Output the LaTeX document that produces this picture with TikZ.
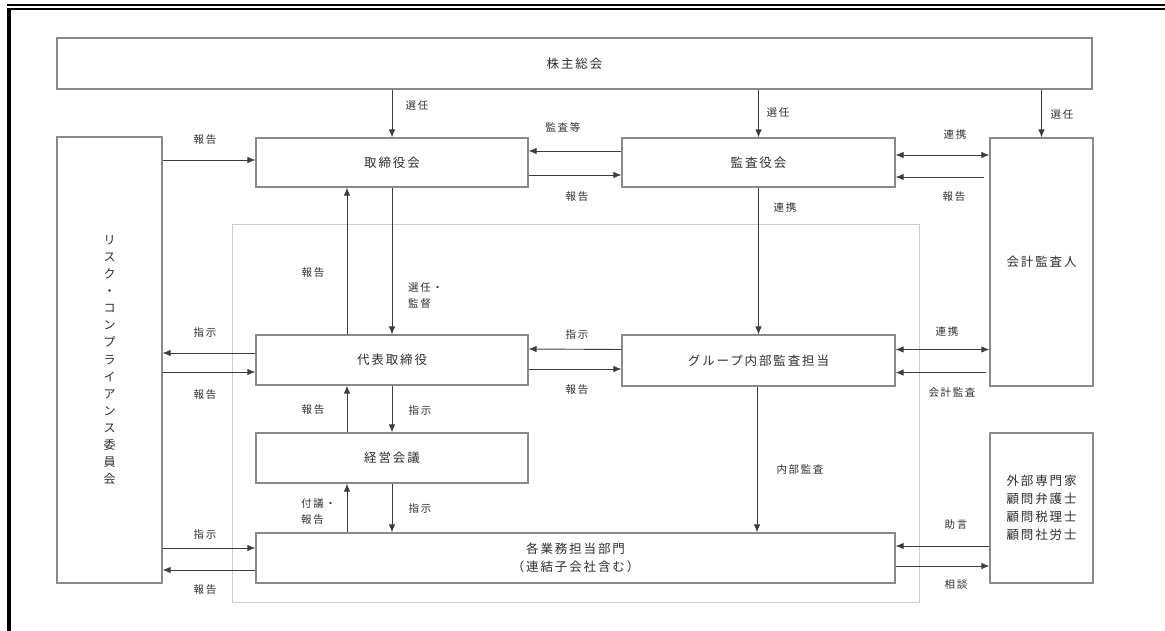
\documentclass[tikz,border=0pt]{standalone}
\usepackage{fontspec}
\newfontfamily\jp[LetterSpace=15]{Noto Sans CJK JP}
\usetikzlibrary{arrows.meta}
\definecolor{boxline}{HTML}{8A8A8A}
\definecolor{arrowc}{HTML}{3C3C3C}
\definecolor{textc}{HTML}{2E2E2E}
\definecolor{grpc}{HTML}{CFCFCF}
\begin{document}
\begin{tikzpicture}[x=1pt,y=-1pt,
  box/.style={draw=boxline,line width=1.2pt,fill=white,inner sep=0pt,align=center,
    text=textc,font=\jp\fontsize{12.5}{18}\selectfont},
  lbl/.style={inner sep=1pt,text=textc,font=\jp\fontsize{10.5}{16}\selectfont},
  arr/.style={draw=arrowc,line width=0.9pt,-{Latex[length=8pt,width=6.5pt]}},
  darr/.style={draw=arrowc,line width=0.9pt,{Latex[length=8pt,width=6.5pt]}-{Latex[length=8pt,width=6.5pt]}}]
\useasboundingbox (0,0) rectangle (1165,631);
% page border
\fill[black] (7,4.5) rectangle (1165,6.5);
\fill[black] (7,8.3) rectangle (1165,10.3);
\fill[black] (7,8.3) rectangle (11,631);
% group frame
\node[draw=grpc,line width=0.8pt,minimum width=687pt,minimum height=378pt,inner sep=0pt] (grp) at (575.5,413) {};
% boxes
\node[box,minimum width=1035pt,minimum height=51pt] (sh) at (574.5,63.5) {株主総会};
\node[box,minimum width=105pt,minimum height=446pt,font=\jp\fontsize{12}{17.1}\selectfont] (risk) at (109.5,360)
  {リ\\ス\\ク\\・\\コ\\ン\\プ\\ラ\\イ\\ア\\ン\\ス\\委\\員\\会};
\node[box,minimum width=272pt,minimum height=49pt] (tb) at (392,162.5) {取締役会};
\node[box,minimum width=273pt,minimum height=49pt] (ka) at (758.5,162.5) {監査役会};
\node[box,minimum width=103pt,minimum height=248pt] (kai) at (1041.5,262) {会計監査人};
\node[box,minimum width=272pt,minimum height=50pt] (dh) at (392,360) {代表取締役};
\node[box,minimum width=273pt,minimum height=51pt] (gr) at (758.5,360.5) {グループ内部監査担当};
\node[box,minimum width=272pt,minimum height=50pt] (kk) at (392,458) {経営会議};
\node[box,minimum width=639pt,minimum height=50pt] (gyo) at (575.5,558) {各業務担当部門\\（連結子会社含む）};
\node[box,minimum width=103pt,minimum height=150pt] (gai) at (1041.5,508) {外部専門家\\顧問弁護士\\顧問税理士\\顧問社労士};
% vertical arrows from shareholders
\draw[arr] (sh.south -| tb.north) -- (tb.north);
\draw[arr] (sh.south -| ka.north) -- (ka.north);
\draw[arr] (sh.south -| kai.north) -- (kai.north);
\node[lbl] (l1) at (417,106) {選任};
\node[lbl] (l2) at (778,113) {選任};
\node[lbl] (l3) at (1062,115) {選任};
% risk <-> boards
\draw[arr] ([yshift=2.5pt]risk.east |- tb.west) -- ([yshift=2.5pt]tb.west);
\node[lbl] (l4) at (205,140) {報告};
\draw[arr] ([yshift=7pt]dh.west) -- ([yshift=7pt]dh.west -| risk.east);
\node[lbl] (l5) at (205,333) {指示};
\draw[arr] ([yshift=-12pt]dh.west -| risk.east) -- ([yshift=-12pt]dh.west);
\node[lbl] (l6) at (205,395) {報告};
\draw[arr] ([yshift=10pt]gyo.west -| risk.east) -- ([yshift=10pt]gyo.west);
\node[lbl] (l7) at (205,535) {指示};
\draw[arr] ([yshift=-12pt]gyo.west) -- ([yshift=-12pt]gyo.west -| risk.east);
\node[lbl] (l8) at (205,590) {報告};
% board <-> audit board
\draw[arr] ([yshift=11.5pt]ka.west) -- ([yshift=11.5pt]tb.east);
\node[lbl] (l9) at (563,127) {監査等};
\draw[arr] ([yshift=-12.5pt]tb.east) -- ([yshift=-12.5pt]ka.east -| ka.west);
\node[lbl] (l10) at (577,197) {報告};
% audit board <-> accounting auditor
\draw[darr] ([yshift=7.5pt]ka.east) -- ([yshift=7.5pt]ka.east -| kai.west);
\node[lbl] (l11) at (955,135) {連携};
\draw[arr] ([xshift=-5pt,yshift=-14.5pt]ka.east -| kai.west) -- ([yshift=-14.5pt]ka.east);
\node[lbl] (l12) at (954,197) {報告};
% audit board -> group internal audit
\draw[arr] (ka.south) -- (gr.north);
\node[lbl] (l13) at (785,208) {連携};
% board <-> representative director
\draw[arr] (tb.south) -- (dh.north);
\node[lbl,align=left,anchor=west] (l14) at (407,296) {選任・\\監督};
\draw[arr] ([xshift=-45pt]dh.north) -- ([xshift=-45pt]tb.south);
\node[lbl] (l15) at (313,273) {報告};
% representative <-> group audit
\draw[arr] ([yshift=11pt]gr.west) -- ([yshift=11pt]dh.east);
\node[lbl] (l16) at (577,335) {指示};
\draw[arr] ([yshift=-9pt]dh.east) -- ([yshift=-9pt]dh.east -| gr.west);
\node[lbl] (l17) at (577,390) {報告};
% group audit <-> accounting auditor
\draw[darr] ([yshift=11pt]gr.east) -- ([yshift=11pt]gr.east -| kai.west);
\node[lbl] (l18) at (947,332) {連携};
\draw[arr] ([xshift=-3pt,yshift=-12pt]gr.east -| kai.west) -- ([yshift=-12pt]gr.east);
\node[lbl] (l19) at (952,393) {会計監査};
% representative <-> management meeting
\draw[arr] (dh.south) -- (kk.north);
\node[lbl] (l20) at (420,411) {指示};
\draw[arr] ([xshift=-45pt]kk.north) -- ([xshift=-45pt]dh.south);
\node[lbl] (l21) at (313,410) {報告};
% management meeting <-> departments
\draw[arr] (kk.south) -- (kk.south |- gyo.north);
\node[lbl] (l22) at (420,509) {指示};
\draw[arr] ([xshift=-45pt]kk.south |- gyo.north) -- ([xshift=-45pt]kk.south);
\node[lbl,align=left,anchor=west] (l23) at (300,512) {付議・\\報告};
% internal audit
\draw[arr] ([xshift=-1.5pt]gr.south) -- ([xshift=-1.5pt]gr.south |- gyo.north);
\node[lbl] (l24) at (800,470) {内部監査};
% external experts
\draw[arr] ([yshift=12pt]gyo.east -| gai.west) -- ([yshift=12pt]gyo.east);
\node[lbl] (l25) at (956,525) {助言};
\draw[arr] ([yshift=-8pt]gyo.east) -- ([yshift=-8pt]gyo.east -| gai.west);
\node[lbl] (l26) at (956,585) {相談};
\end{tikzpicture}
\end{document}
